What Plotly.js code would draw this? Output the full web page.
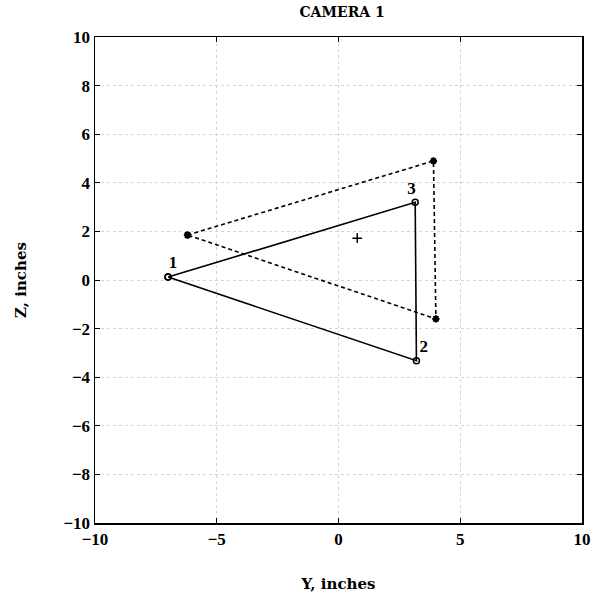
<!DOCTYPE html>
<html>
<head>
<meta charset="utf-8">
<script src="https://cdn.plot.ly/plotly-3.0.1.min.js"></script>
<style>html,body{margin:0;padding:0;background:#fff;}#plot{width:595px;height:602px;}</style>
</head>
<body>
<div id="plot"></div>
<script>
// Solid triangle (points 1, 3, 2, closed)
const solidY = [-7.0, 3.15, 3.2, -7.0];
const solidZ = [0.12, 3.2, -3.32, 0.12];
// Dashed triangle (asterisk points, closed)
const dashY = [-6.2, 3.9, 4.0, -6.2];
const dashZ = [1.85, 4.9, -1.6, 1.85];
// Centre mark
const centerY = [0.77];
const centerZ = [1.72];
// Point labels
const labelText = ['1', '3', '2'];
const labelY = [-6.8, 3.0, 3.5];
const labelZ = [0.65, 3.7, -2.8];

const FONT = 'Liberation Serif, DejaVu Serif, serif';
const TFONT = 'DejaVu Serif, Liberation Serif, serif';

const traces = [
  {x: dashY, y: dashZ, mode: 'lines+markers', type: 'scatter',
   line: {color: '#000', width: 1.6, dash: '4px,3px'},
   marker: {symbol: 'asterisk-open', size: 6, color: '#000', line: {color: '#000', width: 2}}},
  {x: solidY, y: solidZ, mode: 'lines+markers', type: 'scatter',
   line: {color: '#000', width: 1.6},
   marker: {symbol: 'circle-open', size: 6, color: '#000', line: {color: '#000', width: 1.5}}},
  {x: centerY, y: centerZ, mode: 'markers', type: 'scatter',
   marker: {symbol: 'cross-thin-open', size: 7, color: '#000', line: {color: '#000', width: 1.5}}},
  {x: labelY, y: labelZ, mode: 'text', type: 'scatter', text: labelText,
   textfont: {family: FONT, size: 17, color: '#000', weight: 'bold'}}
];

const axisCommon = {
  showline: true, linecolor: '#000', linewidth: 1.5, mirror: 'ticks',
  ticks: 'inside', ticklen: 5, tickcolor: '#000', tickwidth: 1,
  showgrid: true, gridcolor: '#d4d4d4', griddash: 'dot', gridwidth: 1,
  zeroline: false, tickfont: {family: FONT, size: 17, color: '#000', weight: 'bold'}
};

const layout = {
  width: 595, height: 602,
  margin: {l: 95, r: 13, t: 37, b: 79},
  paper_bgcolor: '#fff', plot_bgcolor: '#fff',
  showlegend: false,
  title: {text: 'CAMERA 1', font: {family: TFONT, size: 14, color: '#000', weight: 'bold'}, x: 0.575, xanchor: 'center', y: 0.98, yanchor: 'middle'},
  xaxis: Object.assign({}, axisCommon, {range: [-10, 10], tickvals: [-10, -5, 0, 5, 10], ticktext: ['\u221210', '\u22125', '0', '5', '10'],
    title: {text: 'Y, inches', font: {family: TFONT, size: 15, color: '#000', weight: 'bold'}, standoff: 30}}),
  yaxis: Object.assign({}, axisCommon, {range: [-10, 10], tickvals: [-10, -8, -6, -4, -2, 0, 2, 4, 6, 8, 10],
    ticktext: ['\u221210', '\u22128', '\u22126', '\u22124', '\u22122', '0', '2', '4', '6', '8', '10'],
    title: {text: 'Z, inches', font: {family: TFONT, size: 15, color: '#000', weight: 'bold'}, standoff: 33}})
};

Plotly.newPlot('plot', traces, layout, {displayModeBar: false, staticPlot: true});
</script>
</body>
</html>
